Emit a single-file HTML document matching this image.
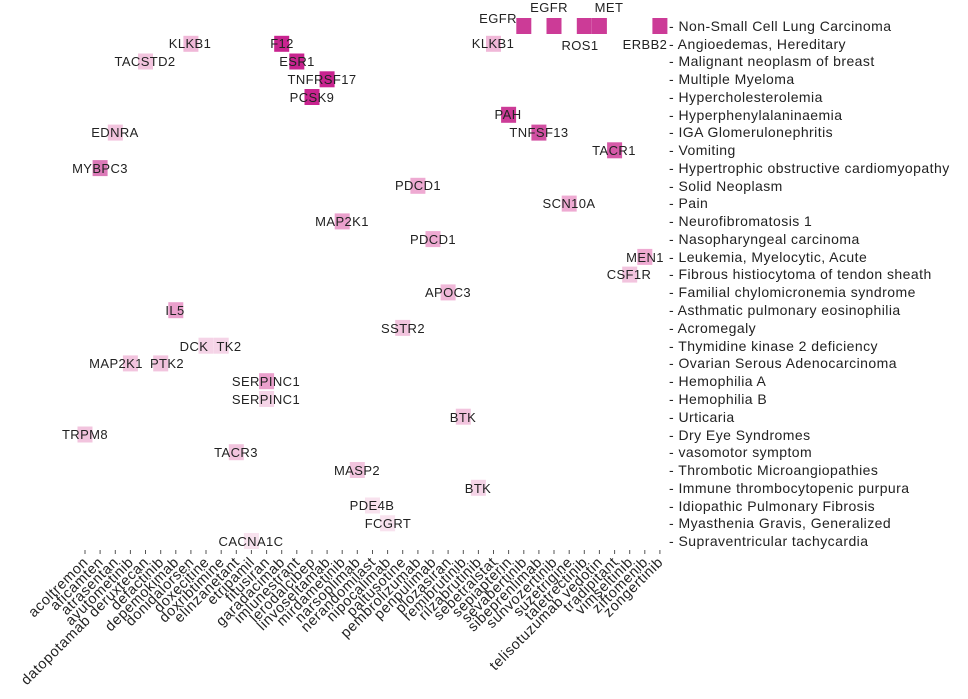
<!DOCTYPE html>
<html><head><meta charset="utf-8"><style>
html,body{margin:0;padding:0;background:#fff;}
svg{display:block;font-family:"Liberation Sans",sans-serif;}
.l{font-size:13px;fill:#222;text-anchor:middle;letter-spacing:0.4px;}
.y{font-size:14px;fill:#222;letter-spacing:0.45px;}
.x{font-size:14.5px;fill:#222;text-anchor:end;letter-spacing:0.6px;}
.t{stroke:#555;stroke-width:1;}
</style></head><body>
<svg width="968" height="699" viewBox="0 0 968 699">
<g>
<rect x="516.3" y="18" width="15" height="16" fill="#cc3b97"/>
<rect x="546.5" y="18" width="15" height="16" fill="#cc3b97"/>
<rect x="576.8" y="18" width="15" height="16" fill="#cc3b97"/>
<rect x="591.9" y="18" width="15" height="16" fill="#cc3b97"/>
<rect x="652.4" y="18" width="15" height="16" fill="#cc3b97"/>
<rect x="183.4" y="35.8" width="15" height="16" fill="#f0b8d8"/>
<rect x="486" y="35.8" width="15" height="16" fill="#f0b8d8"/>
<rect x="274.2" y="35.8" width="15" height="16" fill="#c8238f"/>
<rect x="138" y="53.5" width="15" height="16" fill="#f2c4de"/>
<rect x="289.3" y="53.5" width="15" height="16" fill="#c8238f"/>
<rect x="319.6" y="71.3" width="15" height="16" fill="#c8238f"/>
<rect x="304.5" y="89" width="15" height="16" fill="#c8238f"/>
<rect x="501.1" y="106.8" width="15" height="16" fill="#cc3b97"/>
<rect x="107.8" y="124.6" width="15" height="16" fill="#f2c4de"/>
<rect x="531.4" y="124.6" width="15" height="16" fill="#d250a2"/>
<rect x="607.1" y="142.3" width="15" height="16" fill="#d65aa8"/>
<rect x="92.6" y="160.1" width="15" height="16" fill="#dc7ab8"/>
<rect x="410.4" y="177.8" width="15" height="16" fill="#eeaad2"/>
<rect x="561.7" y="195.6" width="15" height="16" fill="#eeaad2"/>
<rect x="334.7" y="213.4" width="15" height="16" fill="#eaa0cc"/>
<rect x="425.5" y="231.1" width="15" height="16" fill="#eeaad2"/>
<rect x="637.3" y="248.9" width="15" height="16" fill="#eeaad2"/>
<rect x="622.2" y="266.6" width="15" height="16" fill="#f2c4de"/>
<rect x="440.6" y="284.4" width="15" height="16" fill="#f0b8d8"/>
<rect x="168.3" y="302.2" width="15" height="16" fill="#eaa0cc"/>
<rect x="395.2" y="319.9" width="15" height="16" fill="#f2c4de"/>
<rect x="198.5" y="337.7" width="15" height="16" fill="#f5d4e7"/>
<rect x="213.7" y="337.7" width="15" height="16" fill="#f5d4e7"/>
<rect x="122.9" y="355.4" width="15" height="16" fill="#f2c4de"/>
<rect x="153.2" y="355.4" width="15" height="16" fill="#f2c4de"/>
<rect x="259.1" y="373.2" width="15" height="16" fill="#eaa0cc"/>
<rect x="259.1" y="391" width="15" height="16" fill="#f5d4e7"/>
<rect x="455.8" y="408.7" width="15" height="16" fill="#f2c4de"/>
<rect x="77.5" y="426.5" width="15" height="16" fill="#f2c4de"/>
<rect x="228.8" y="444.2" width="15" height="16" fill="#f2c4de"/>
<rect x="349.8" y="462" width="15" height="16" fill="#f2c4de"/>
<rect x="470.9" y="479.8" width="15" height="16" fill="#f5d4e7"/>
<rect x="365" y="497.5" width="15" height="16" fill="#f8e2ee"/>
<rect x="380.1" y="515.3" width="15" height="16" fill="#f8e2ee"/>
<rect x="243.9" y="533" width="15" height="16" fill="#f8e2ee"/>
</g>
<g class="l">
<text x="498" y="23">EGFR</text>
<text x="549" y="12">EGFR</text>
<text x="609" y="12">MET</text>
<text x="580" y="50">ROS1</text>
<text x="645" y="49">ERBB2</text>
<text x="190" y="48">KLKB1</text>
<text x="493" y="48">KLKB1</text>
<text x="282" y="48">F12</text>
<text x="145" y="66">TACSTD2</text>
<text x="297" y="66">ESR1</text>
<text x="322" y="84">TNFRSF17</text>
<text x="312" y="102">PCSK9</text>
<text x="508" y="119">PAH</text>
<text x="115" y="137">EDNRA</text>
<text x="539" y="137">TNFSF13</text>
<text x="614" y="155">TACR1</text>
<text x="100" y="173">MYBPC3</text>
<text x="418" y="190">PDCD1</text>
<text x="569" y="208">SCN10A</text>
<text x="342" y="226">MAP2K1</text>
<text x="433" y="244">PDCD1</text>
<text x="645" y="262">MEN1</text>
<text x="629" y="279">CSF1R</text>
<text x="448" y="297">APOC3</text>
<text x="175" y="315">IL5</text>
<text x="403" y="333">SSTR2</text>
<text x="194" y="351">DCK</text>
<text x="229" y="351">TK2</text>
<text x="116" y="368">MAP2K1</text>
<text x="167" y="368">PTK2</text>
<text x="266" y="386">SERPINC1</text>
<text x="266" y="404">SERPINC1</text>
<text x="463" y="422">BTK</text>
<text x="85" y="439">TRPM8</text>
<text x="236" y="457">TACR3</text>
<text x="357" y="475">MASP2</text>
<text x="478" y="493">BTK</text>
<text x="372" y="510">PDE4B</text>
<text x="388" y="528">FCGRT</text>
<text x="251" y="546">CACNA1C</text>
</g>
<g class="y">
<text x="669" y="31">- Non-Small Cell Lung Carcinoma</text>
<text x="669" y="49">- Angioedemas, Hereditary</text>
<text x="669" y="66">- Malignant neoplasm of breast</text>
<text x="669" y="84">- Multiple Myeloma</text>
<text x="669" y="102">- Hypercholesterolemia</text>
<text x="669" y="120">- Hyperphenylalaninaemia</text>
<text x="669" y="137">- IGA Glomerulonephritis</text>
<text x="669" y="155">- Vomiting</text>
<text x="669" y="173">- Hypertrophic obstructive cardiomyopathy</text>
<text x="669" y="191">- Solid Neoplasm</text>
<text x="669" y="208">- Pain</text>
<text x="669" y="226">- Neurofibromatosis 1</text>
<text x="669" y="244">- Nasopharyngeal carcinoma</text>
<text x="669" y="262">- Leukemia, Myelocytic, Acute</text>
<text x="669" y="279">- Fibrous histiocytoma of tendon sheath</text>
<text x="669" y="297">- Familial chylomicronemia syndrome</text>
<text x="669" y="315">- Asthmatic pulmonary eosinophilia</text>
<text x="669" y="333">- Acromegaly</text>
<text x="669" y="351">- Thymidine kinase 2 deficiency</text>
<text x="669" y="368">- Ovarian Serous Adenocarcinoma</text>
<text x="669" y="386">- Hemophilia A</text>
<text x="669" y="404">- Hemophilia B</text>
<text x="669" y="422">- Urticaria</text>
<text x="669" y="440">- Dry Eye Syndromes</text>
<text x="669" y="457">- vasomotor symptom</text>
<text x="669" y="475">- Thrombotic Microangiopathies</text>
<text x="669" y="493">- Immune thrombocytopenic purpura</text>
<text x="669" y="511">- Idiopathic Pulmonary Fibrosis</text>
<text x="669" y="528">- Myasthenia Gravis, Generalized</text>
<text x="669" y="546">- Supraventricular tachycardia</text>
</g>
<g class="t">
<line x1="85" y1="550" x2="85" y2="554"/><line x1="100.1" y1="550" x2="100.1" y2="554"/><line x1="115.3" y1="550" x2="115.3" y2="554"/><line x1="130.4" y1="550" x2="130.4" y2="554"/><line x1="145.5" y1="550" x2="145.5" y2="554"/><line x1="160.7" y1="550" x2="160.7" y2="554"/><line x1="175.8" y1="550" x2="175.8" y2="554"/><line x1="190.9" y1="550" x2="190.9" y2="554"/><line x1="206" y1="550" x2="206" y2="554"/><line x1="221.2" y1="550" x2="221.2" y2="554"/><line x1="236.3" y1="550" x2="236.3" y2="554"/><line x1="251.4" y1="550" x2="251.4" y2="554"/><line x1="266.6" y1="550" x2="266.6" y2="554"/><line x1="281.7" y1="550" x2="281.7" y2="554"/><line x1="296.8" y1="550" x2="296.8" y2="554"/><line x1="312" y1="550" x2="312" y2="554"/><line x1="327.1" y1="550" x2="327.1" y2="554"/><line x1="342.2" y1="550" x2="342.2" y2="554"/><line x1="357.3" y1="550" x2="357.3" y2="554"/><line x1="372.5" y1="550" x2="372.5" y2="554"/><line x1="387.6" y1="550" x2="387.6" y2="554"/><line x1="402.7" y1="550" x2="402.7" y2="554"/><line x1="417.9" y1="550" x2="417.9" y2="554"/><line x1="433" y1="550" x2="433" y2="554"/><line x1="448.1" y1="550" x2="448.1" y2="554"/><line x1="463.3" y1="550" x2="463.3" y2="554"/><line x1="478.4" y1="550" x2="478.4" y2="554"/><line x1="493.5" y1="550" x2="493.5" y2="554"/><line x1="508.6" y1="550" x2="508.6" y2="554"/><line x1="523.8" y1="550" x2="523.8" y2="554"/><line x1="538.9" y1="550" x2="538.9" y2="554"/><line x1="554" y1="550" x2="554" y2="554"/><line x1="569.2" y1="550" x2="569.2" y2="554"/><line x1="584.3" y1="550" x2="584.3" y2="554"/><line x1="599.4" y1="550" x2="599.4" y2="554"/><line x1="614.6" y1="550" x2="614.6" y2="554"/><line x1="629.7" y1="550" x2="629.7" y2="554"/><line x1="644.8" y1="550" x2="644.8" y2="554"/><line x1="659.9" y1="550" x2="659.9" y2="554"/>
</g>
<g class="x">
<text transform="translate(89,563) rotate(-45)">acoltremon</text>
<text transform="translate(104.1,563) rotate(-45)">aficamten</text>
<text transform="translate(119.3,563) rotate(-45)">atrasentan</text>
<text transform="translate(134.4,563) rotate(-45)">avutometinib</text>
<text transform="translate(149.5,563) rotate(-45)">datopotamab deruxtecan</text>
<text transform="translate(164.7,563) rotate(-45)">defactinib</text>
<text transform="translate(179.8,563) rotate(-45)">depemokimab</text>
<text transform="translate(194.9,563) rotate(-45)">donidalorsen</text>
<text transform="translate(210,563) rotate(-45)">doxecitine</text>
<text transform="translate(225.2,563) rotate(-45)">doxribtimine</text>
<text transform="translate(240.3,563) rotate(-45)">elinzanetant</text>
<text transform="translate(255.4,563) rotate(-45)">etripamil</text>
<text transform="translate(270.6,563) rotate(-45)">fitusiran</text>
<text transform="translate(285.7,563) rotate(-45)">garadacimab</text>
<text transform="translate(300.8,563) rotate(-45)">imlunestrant</text>
<text transform="translate(316,563) rotate(-45)">lerodalcibep</text>
<text transform="translate(331.1,563) rotate(-45)">linvoseltamab</text>
<text transform="translate(346.2,563) rotate(-45)">mirdametinib</text>
<text transform="translate(361.3,563) rotate(-45)">narsoplimab</text>
<text transform="translate(376.5,563) rotate(-45)">nerandomilast</text>
<text transform="translate(391.6,563) rotate(-45)">nipocalimab</text>
<text transform="translate(406.7,563) rotate(-45)">paltusotine</text>
<text transform="translate(421.9,563) rotate(-45)">pembrolizumab</text>
<text transform="translate(437,563) rotate(-45)">penpulimab</text>
<text transform="translate(452.1,563) rotate(-45)">plozasiran</text>
<text transform="translate(467.3,563) rotate(-45)">remibrutinib</text>
<text transform="translate(482.4,563) rotate(-45)">rilzabrutinib</text>
<text transform="translate(497.5,563) rotate(-45)">sebetralstat</text>
<text transform="translate(512.6,563) rotate(-45)">sepiapterin</text>
<text transform="translate(527.8,563) rotate(-45)">sevabertinib</text>
<text transform="translate(542.9,563) rotate(-45)">sibeprenlimab</text>
<text transform="translate(558,563) rotate(-45)">sunvozertinib</text>
<text transform="translate(573.2,563) rotate(-45)">suzetrigine</text>
<text transform="translate(588.3,563) rotate(-45)">taletrectinib</text>
<text transform="translate(603.4,563) rotate(-45)">telisotuzumab vedotin</text>
<text transform="translate(618.6,563) rotate(-45)">tradipitant</text>
<text transform="translate(633.7,563) rotate(-45)">vimseltinib</text>
<text transform="translate(648.8,563) rotate(-45)">ziftomenib</text>
<text transform="translate(663.9,563) rotate(-45)">zongertinib</text>
</g>
</svg>
</body></html>
